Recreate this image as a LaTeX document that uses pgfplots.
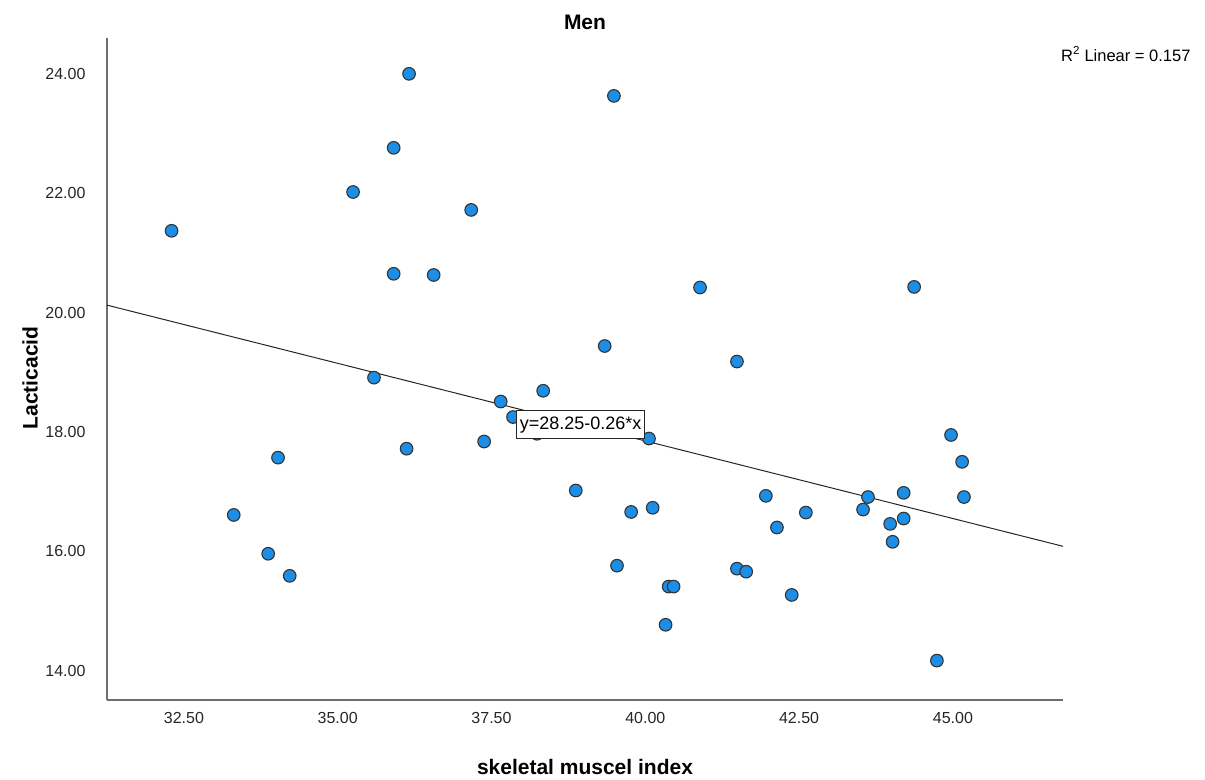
\documentclass[border=0pt]{standalone}
\usepackage{pgfplots}
\pgfplotsset{compat=1.18}
\usepackage{fontspec}
\setmainfont{Liberation Sans}
\definecolor{ptblue}{RGB}{28,142,230}
\definecolor{axgray}{RGB}{110,110,110}
\begin{document}
\begin{tikzpicture}
\path[use as bounding box] (-107bp,-80bp) rectangle (1098bp,700bp);
\begin{axis}[
  at={(0,0)}, anchor=south west,
  scale only axis, width=956bp, height=662bp,
  xmin=31.25, xmax=46.79, ymin=13.51, ymax=24.60,
  axis x line*=bottom, axis y line*=left,
  axis line style={-, axgray, line width=1.2bp},
  xtick={32.5,35,37.5,40,42.5,45},
  ytick={14,16,18,20,22,24},
  major tick length=0pt,
  /pgf/number format/assume math mode=true,
  /pgf/number format/.cd, fixed, fixed zerofill, precision=2, 1000 sep={}, /pgfplots/.cd,
  tick label style={font=\fontsize{16bp}{19bp}\selectfont, text=black!85},
  xticklabel style={yshift=-9bp},
  yticklabel style={xshift=-18bp},
  clip=false,
]
\addplot[black!85, line width=1bp] coordinates {(31.25,20.125) (46.79,16.0846)};
\addplot[only marks, mark=*, mark size=6.3bp,
  mark options={fill=ptblue, draw=black!80, line width=1.1bp}] coordinates {
(32.30,21.37) (33.31,16.61) (33.87,15.96) (34.03,17.57) (34.22,15.59)
(35.25,22.02) (35.59,18.91) (35.91,22.76) (35.91,20.65) (36.12,17.72)
(36.16,24.00) (36.56,20.63) (37.17,21.72) (37.38,17.84) (37.65,18.51)
(37.85,18.25) (38.34,18.69) (38.24,17.97) (38.87,17.02) (39.34,19.44)
(39.49,23.63) (39.54,15.76) (39.77,16.66) (40.06,17.89) (40.12,16.73)
(40.33,14.77) (40.38,15.41) (40.46,15.41) (40.89,20.42) (41.49,19.18)
(41.49,15.71) (41.64,15.66) (41.96,16.93) (42.14,16.40) (42.38,15.27)
(42.61,16.65) (43.54,16.70) (43.62,16.91) (43.98,16.46) (44.02,16.16)
(44.20,16.98) (44.20,16.55) (44.37,20.43) (44.74,14.17) (44.97,17.95)
(45.15,17.50) (45.18,16.91)
};
\coordinate (lbl) at (axis cs:38.95,18.12);
\end{axis}
\node[draw=black!85, fill=white, line width=1bp, inner xsep=3bp, inner ysep=6bp, font=\fontsize{18bp}{21bp}\selectfont] at (lbl) {y=28.25-0.26*x};
\node[anchor=east, font=\fontsize{16.5bp}{19bp}\selectfont] at (1087bp,646bp) {R\textsuperscript{2} Linear = 0.157};
\node[font=\bfseries\fontsize{21bp}{24bp}\selectfont] at (478bp,678bp) {Men};
\node[font=\bfseries\fontsize{21bp}{24bp}\selectfont, rotate=90] at (-77bp,322bp) {Lacticacid};
\node[font=\bfseries\fontsize{21bp}{24bp}\selectfont] at (478bp,-67bp) {skeletal muscel index};
\end{tikzpicture}
\end{document}
